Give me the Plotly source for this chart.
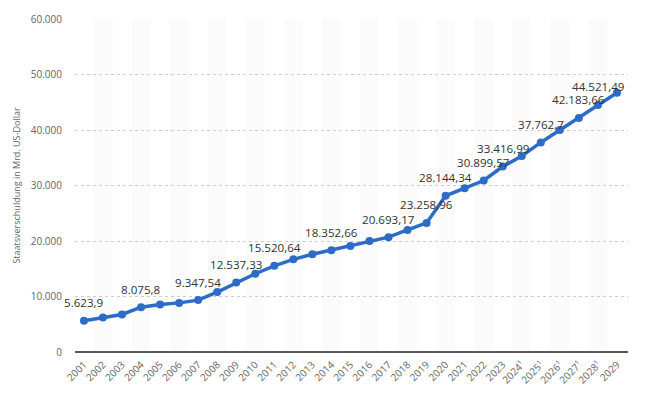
import plotly.graph_objects as go

years = ["2001", "2002", "2003", "2004", "2005", "2006", "2007", "2008", "2009", "2010",
         "2011", "2012", "2013", "2014", "2015", "2016", "2017", "2018", "2019", "2020",
         "2021", "2022", "2023", "2024¹", "2025¹", "2026¹", "2027¹", "2028¹", "2029"]
debt = [5623.9, 6200, 6760, 8075.8, 8550, 8850, 9347.54, 10800, 12537.33, 14100,
        15520.64, 16700, 17600, 18352.66, 19100, 20000, 20693.17, 22000, 23258.96, 28144.34,
        29500, 30899.57, 33416.99, 35300, 37762.7, 40000, 42183.66, 44521.49, 46700]
labeled = [True, False, False, True, False, False, True, False, True, False,
           True, False, False, True, False, False, True, False, True, True,
           False, True, True, False, True, False, True, True, False]
y_ticks = [0, 10000, 20000, 30000, 40000, 50000, 60000]
y_title = "Staatsverschuldung in Mrd. US-Dollar"


def de_fmt(v):
    s = f"{v:,}"
    if s.endswith(".0"):
        s = s[:-2]
    return s.replace(",", "X").replace(".", ",").replace("X", ".")


xs = list(range(len(years)))
band_x = [i for i in xs if i % 2 == 1]

fig = go.Figure()
fig.add_trace(go.Scatter(
    x=xs, y=debt, mode="lines+markers",
    line=dict(color="#2d6cc6", width=3.5),
    marker=dict(color="#2d6cc6", size=8),
    hoverinfo="skip", showlegend=False, cliponaxis=False,
))

for i in band_x:
    fig.add_shape(type="rect", xref="x", yref="y", x0=i - 0.5, x1=i + 0.5,
                  y0=0, y1=y_ticks[-1], fillcolor="#fbfbfb", line_width=0,
                  layer="below")

for i, (v, lab) in enumerate(zip(debt, labeled)):
    if lab:
        fig.add_annotation(x=i, y=v, text=de_fmt(v), showarrow=False,
                           yshift=18, borderpad=0,
                           font=dict(family="Open Sans", size=11.6, color="#333333"))

fig.update_layout(
    width=637, height=392,
    margin=dict(l=67, r=17, t=11, b=48),
    paper_bgcolor="white", plot_bgcolor="white",
    separators=",.",
    font=dict(family="Open Sans", color="#666666"),
)
fig.update_xaxes(
    range=[-0.47, 28.58], tickmode="array", tickvals=xs, ticktext=years,
    tickangle=-45, tickfont=dict(size=10, color="#666666"),
    showgrid=False, showline=False, ticks="", zeroline=False, automargin=False,
    ticklabelstandoff=4,
)
fig.update_yaxes(
    range=[0, 60000], tickmode="array", tickvals=y_ticks,
    tickformat=",d", tickfont=dict(size=10, color="#666666"),
    showgrid=True, gridcolor="#cccccc", griddash="dot", gridwidth=1,
    zeroline=True, zerolinecolor="#5a5a5a", zerolinewidth=2,
    title=dict(text=y_title, font=dict(size=9, color="#666666"), standoff=8),
    ticks="", ticklabelstandoff=12, automargin=False,
)
fig.write_html("out.html")
